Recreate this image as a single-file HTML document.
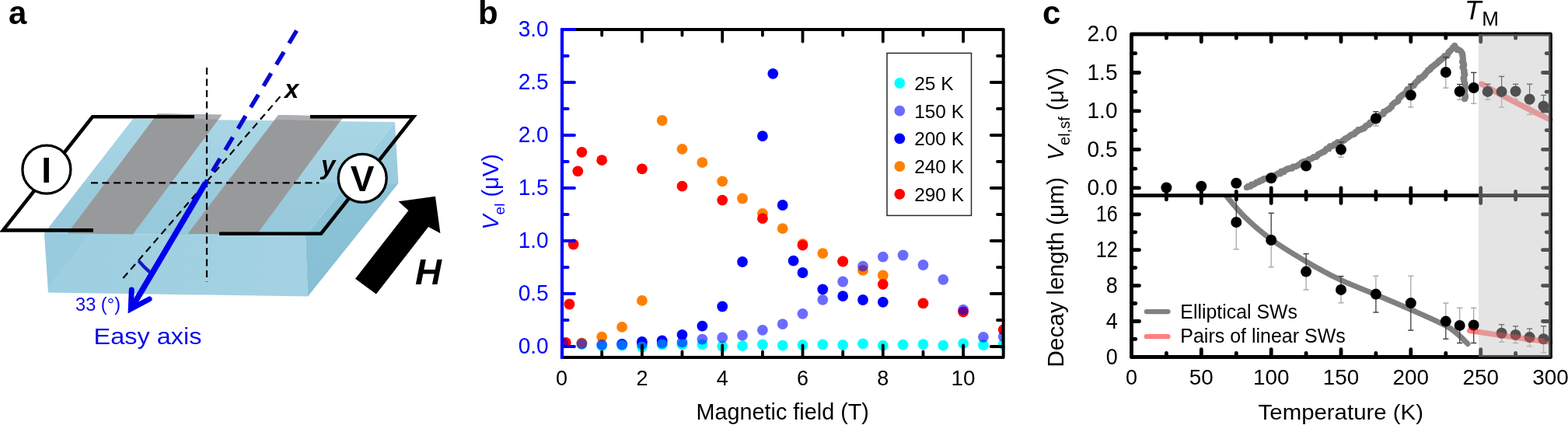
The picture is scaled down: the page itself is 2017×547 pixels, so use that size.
<!DOCTYPE html><html><head><meta charset="utf-8"><title>Figure</title><style>html,body{margin:0;padding:0;background:#fff;}svg{display:block;}</style></head><body>
<svg width="2017" height="547" viewBox="0 0 2017 547" font-family='"Liberation Sans", Arial, Helvetica, sans-serif'>
<rect width="2017" height="547" fill="#fff"/>
<text x="11" y="31" font-size="42" fill="#000" text-anchor="start" font-weight="bold" font-style="normal" >a</text>
<defs><linearGradient id="gTop" gradientUnits="userSpaceOnUse" x1="0" y1="153" x2="0" y2="304"><stop offset="0" stop-color="#a9d6e5"/><stop offset="0.54" stop-color="#a2d0e1"/><stop offset="0.552" stop-color="#9acbdd"/><stop offset="1" stop-color="#96c9db"/></linearGradient><linearGradient id="gFront" gradientUnits="userSpaceOnUse" x1="57" y1="0" x2="396" y2="0"><stop offset="0" stop-color="#9dcfe0"/><stop offset="1" stop-color="#a4d2e2"/></linearGradient><linearGradient id="gRight" gradientUnits="userSpaceOnUse" x1="0" y1="157" x2="0" y2="381"><stop offset="0" stop-color="#a0d0e1"/><stop offset="0.35" stop-color="#98cbdd"/><stop offset="0.36" stop-color="#8cc3d7"/><stop offset="1" stop-color="#87bfd4"/></linearGradient></defs>
<polygon points="57,300 393,304 396,381.5 62,376.5" fill="url(#gFront)" />
<polygon points="508,157 512.5,236 396,381.5 393,304" fill="url(#gRight)" />
<polygon points="171,153 508,157 393,304 57,300" fill="url(#gTop)" />
<polygon points="57,300 115,301 62,370" fill="#94c8da" opacity="0.6"/>
<polygon points="202.7,146.3 285.3,147.8 171,301.5 86.5,300.5" fill="#98999b" />
<polygon points="202.7,146.3 285.3,147.8 280.8,153.8 198.2,152.3" fill="#adaeb0" />
<polygon points="358,148 442,150 330.5,301.5 241.5,301" fill="#98999b" />
<polygon points="358,148 442,150 437.5,156 353.5,154" fill="#adaeb0" />
<polyline points="250,150.3 119,150.3 4,296.4 120,296.4" fill="none" stroke="#000" stroke-width="4.6" stroke-linecap="butt" stroke-linejoin="miter"/>
<polyline points="399,150.3 532,150.3 413,300.7 282,300.7" fill="none" stroke="#000" stroke-width="4.6" stroke-linecap="butt" stroke-linejoin="miter"/>
<line x1="266" y1="87" x2="266" y2="363" stroke="#000" stroke-width="2.2" stroke-dasharray="9 5.5"/>
<line x1="117" y1="235.4" x2="410.5" y2="235.4" stroke="#000" stroke-width="2.2" stroke-dasharray="9 5.5"/>
<line x1="360.4" y1="124.3" x2="155.5" y2="361.4" stroke="#000" stroke-width="2.2" stroke-dasharray="9 6"/>
<line x1="381.6" y1="39.4" x2="264.4" y2="235.4" stroke="#0808d4" stroke-width="5.4" stroke-dasharray="19 13"/>
<line x1="264.4" y1="235.4" x2="169.5" y2="396" stroke="#0000ee" stroke-width="7.4" stroke-linecap="butt"/>
<polyline points="169.3,373.1 168.3,397.5 192.1,385" fill="none" stroke="#0000ee" stroke-width="7" stroke-linecap="round" stroke-linejoin="miter"/>
<path d="M178.2,335.6 A132.6,132.6 0 0 0 193,350.5" fill="none" stroke="#1818c8" stroke-width="4.4"/>
<circle cx="59.9" cy="218.2" r="31" fill="#fff" stroke="#000" stroke-width="3.3"/>
<circle cx="466.2" cy="229.3" r="31" fill="#fff" stroke="#000" stroke-width="3.3"/>
<text x="59.6" y="235.3" font-size="46" fill="#000" text-anchor="middle" font-weight="bold" font-style="normal" >I</text>
<text x="466.2" y="246.4" font-size="46" fill="#000" text-anchor="middle" font-weight="bold" font-style="normal" >V</text>
<text x="366" y="125.6" font-size="33" fill="#000" text-anchor="start" font-weight="bold" font-style="italic" >x</text>
<text x="413" y="224" font-size="33" fill="#000" text-anchor="start" font-weight="bold" font-style="italic" >y</text>
<polygon points="560,252.8 566.4,300.2 551.1,292 483.9,378.6 457,358.7 525.4,271 512.5,259.2" fill="#000" />
<text x="534" y="366" font-size="47" fill="#000" text-anchor="start" font-weight="bold" font-style="italic" >H</text>
<text x="97" y="399.5" font-size="23.5" fill="#0a0aee" text-anchor="start" font-weight="normal" font-style="normal" textLength="58" lengthAdjust="spacingAndGlyphs" >33 (°)</text>
<text x="120.5" y="443.1" font-size="30" fill="#0a0aee" text-anchor="start" font-weight="normal" font-style="normal" textLength="139" lengthAdjust="spacingAndGlyphs" >Easy axis</text>
<text x="615" y="31" font-size="42" fill="#000" text-anchor="start" font-weight="bold" font-style="normal" >b</text>
<clipPath id="clipB"><rect x="723" y="38" width="567.7" height="422"/></clipPath>
<g clip-path="url(#clipB)">
<circle cx="800.1" cy="442.8" r="6.9" fill="#0000ff" />
<circle cx="825.9" cy="439.9" r="6.9" fill="#0000ff" />
<circle cx="851.7" cy="438.4" r="6.9" fill="#0000ff" />
<circle cx="877.5" cy="430.8" r="6.9" fill="#0000ff" />
<circle cx="903.4" cy="419.7" r="6.9" fill="#0000ff" />
<circle cx="929.2" cy="394.5" r="6.9" fill="#0000ff" />
<circle cx="955" cy="337" r="6.9" fill="#0000ff" />
<circle cx="980.9" cy="175.1" r="6.9" fill="#0000ff" />
<circle cx="994.3" cy="94.8" r="6.9" fill="#0000ff" />
<circle cx="1006.7" cy="264" r="6.9" fill="#0000ff" />
<circle cx="1020.6" cy="335.7" r="6.9" fill="#0000ff" />
<circle cx="1032.5" cy="351" r="6.9" fill="#0000ff" />
<circle cx="1058.3" cy="372.3" r="6.9" fill="#0000ff" />
<circle cx="1084.2" cy="381.1" r="6.9" fill="#0000ff" />
<circle cx="1110" cy="386" r="6.9" fill="#0000ff" />
<circle cx="1135.8" cy="388.8" r="6.9" fill="#0000ff" />
<circle cx="748.4" cy="443" r="6.9" fill="#00ffff" />
<circle cx="774.2" cy="445" r="6.9" fill="#00ffff" />
<circle cx="800.1" cy="444.5" r="6.9" fill="#00ffff" />
<circle cx="825.9" cy="446.5" r="6.9" fill="#00ffff" />
<circle cx="851.7" cy="443.4" r="6.9" fill="#00ffff" />
<circle cx="877.5" cy="443.4" r="6.9" fill="#00ffff" />
<circle cx="903.4" cy="443.4" r="6.9" fill="#00ffff" />
<circle cx="929.2" cy="445.7" r="6.9" fill="#00ffff" />
<circle cx="955" cy="445.2" r="6.9" fill="#00ffff" />
<circle cx="980.9" cy="443.4" r="6.9" fill="#00ffff" />
<circle cx="1006.7" cy="444.7" r="6.9" fill="#00ffff" />
<circle cx="1032.5" cy="444" r="6.9" fill="#00ffff" />
<circle cx="1058.3" cy="443.4" r="6.9" fill="#00ffff" />
<circle cx="1084.2" cy="444" r="6.9" fill="#00ffff" />
<circle cx="1110" cy="442.4" r="6.9" fill="#00ffff" />
<circle cx="1135.8" cy="444.7" r="6.9" fill="#00ffff" />
<circle cx="1161.6" cy="443.7" r="6.9" fill="#00ffff" />
<circle cx="1187.5" cy="443.1" r="6.9" fill="#00ffff" />
<circle cx="1213.3" cy="444.7" r="6.9" fill="#00ffff" />
<circle cx="1239.1" cy="442.1" r="6.9" fill="#00ffff" />
<circle cx="1264.9" cy="444" r="6.9" fill="#00ffff" />
<circle cx="1290.8" cy="443" r="6.9" fill="#00ffff" />
<circle cx="748.4" cy="441.5" r="6.9" fill="#ff8000" />
<circle cx="774.2" cy="433.7" r="6.9" fill="#ff8000" />
<circle cx="800.1" cy="420.9" r="6.9" fill="#ff8000" />
<circle cx="825.9" cy="386.9" r="6.9" fill="#ff8000" />
<circle cx="851.7" cy="155" r="6.9" fill="#ff8000" />
<circle cx="877.5" cy="191.8" r="6.9" fill="#ff8000" />
<circle cx="903.4" cy="209.2" r="6.9" fill="#ff8000" />
<circle cx="929.2" cy="233.3" r="6.9" fill="#ff8000" />
<circle cx="955" cy="255.5" r="6.9" fill="#ff8000" />
<circle cx="980.9" cy="274.8" r="6.9" fill="#ff8000" />
<circle cx="1006.7" cy="294.2" r="6.9" fill="#ff8000" />
<circle cx="1032.5" cy="314" r="6.9" fill="#ff8000" />
<circle cx="1058.3" cy="326.1" r="6.9" fill="#ff8000" />
<circle cx="1084.2" cy="336.4" r="6.9" fill="#ff8000" />
<circle cx="1110" cy="347.9" r="6.9" fill="#ff8000" />
<circle cx="1135.8" cy="354.5" r="6.9" fill="#ff8000" />
<circle cx="727.8" cy="441" r="6.9" fill="#ff0000" />
<circle cx="732.4" cy="391.5" r="6.9" fill="#ff0000" />
<circle cx="737.6" cy="314.5" r="6.9" fill="#ff0000" />
<circle cx="743.3" cy="220.3" r="6.9" fill="#ff0000" />
<circle cx="748.4" cy="195.8" r="6.9" fill="#ff0000" />
<circle cx="774.2" cy="206.2" r="6.9" fill="#ff0000" />
<circle cx="825.9" cy="217.3" r="6.9" fill="#ff0000" />
<circle cx="877.5" cy="239.7" r="6.9" fill="#ff0000" />
<circle cx="929.2" cy="257.6" r="6.9" fill="#ff0000" />
<circle cx="980.9" cy="281.2" r="6.9" fill="#ff0000" />
<circle cx="1032.5" cy="315.7" r="6.9" fill="#ff0000" />
<circle cx="1084.2" cy="336.5" r="6.9" fill="#ff0000" />
<circle cx="1135.8" cy="365.8" r="6.9" fill="#ff0000" />
<circle cx="1187.5" cy="390.4" r="6.9" fill="#ff0000" />
<circle cx="1239.1" cy="401.3" r="6.9" fill="#ff0000" />
<circle cx="1290.8" cy="424.3" r="6.9" fill="#ff0000" />
<circle cx="723.6" cy="441.5" r="6.9" fill="#0000ff" fill-opacity="0.58"/>
<circle cx="748.4" cy="442.3" r="6.9" fill="#0000ff" fill-opacity="0.58"/>
<circle cx="774.2" cy="443.6" r="6.9" fill="#0000ff" fill-opacity="0.58"/>
<circle cx="800.1" cy="443.4" r="6.9" fill="#0000ff" fill-opacity="0.58"/>
<circle cx="825.9" cy="442.8" r="6.9" fill="#0000ff" fill-opacity="0.58"/>
<circle cx="851.7" cy="441.7" r="6.9" fill="#0000ff" fill-opacity="0.58"/>
<circle cx="877.5" cy="440.4" r="6.9" fill="#0000ff" fill-opacity="0.58"/>
<circle cx="903.4" cy="436.6" r="6.9" fill="#0000ff" fill-opacity="0.58"/>
<circle cx="929.2" cy="434.5" r="6.9" fill="#0000ff" fill-opacity="0.58"/>
<circle cx="955" cy="431.7" r="6.9" fill="#0000ff" fill-opacity="0.58"/>
<circle cx="980.9" cy="424.8" r="6.9" fill="#0000ff" fill-opacity="0.58"/>
<circle cx="1006.7" cy="417.1" r="6.9" fill="#0000ff" fill-opacity="0.58"/>
<circle cx="1032.5" cy="403.8" r="6.9" fill="#0000ff" fill-opacity="0.58"/>
<circle cx="1058.3" cy="385.8" r="6.9" fill="#0000ff" fill-opacity="0.58"/>
<circle cx="1084.2" cy="362.5" r="6.9" fill="#0000ff" fill-opacity="0.58"/>
<circle cx="1110" cy="342.7" r="6.9" fill="#0000ff" fill-opacity="0.58"/>
<circle cx="1135.8" cy="330.6" r="6.9" fill="#0000ff" fill-opacity="0.58"/>
<circle cx="1161.6" cy="328.5" r="6.9" fill="#0000ff" fill-opacity="0.58"/>
<circle cx="1187.5" cy="341" r="6.9" fill="#0000ff" fill-opacity="0.58"/>
<circle cx="1213.3" cy="359.8" r="6.9" fill="#0000ff" fill-opacity="0.58"/>
<circle cx="1239.1" cy="398.6" r="6.9" fill="#0000ff" fill-opacity="0.58"/>
<circle cx="1264.9" cy="433.8" r="6.9" fill="#0000ff" fill-opacity="0.58"/>
<circle cx="1290.8" cy="433.2" r="6.9" fill="#0000ff" fill-opacity="0.58"/>
</g>
<line x1="774.2" y1="460" x2="774.2" y2="452.5" stroke="#000" stroke-width="3.8" stroke-linecap="round"/>
<line x1="774.2" y1="38" x2="774.2" y2="45.5" stroke="#000" stroke-width="3.8" stroke-linecap="round"/>
<line x1="825.9" y1="460" x2="825.9" y2="444.4" stroke="#000" stroke-width="3.8" stroke-linecap="round"/>
<line x1="825.9" y1="38" x2="825.9" y2="53.6" stroke="#000" stroke-width="3.8" stroke-linecap="round"/>
<line x1="877.5" y1="460" x2="877.5" y2="452.5" stroke="#000" stroke-width="3.8" stroke-linecap="round"/>
<line x1="877.5" y1="38" x2="877.5" y2="45.5" stroke="#000" stroke-width="3.8" stroke-linecap="round"/>
<line x1="929.2" y1="460" x2="929.2" y2="444.4" stroke="#000" stroke-width="3.8" stroke-linecap="round"/>
<line x1="929.2" y1="38" x2="929.2" y2="53.6" stroke="#000" stroke-width="3.8" stroke-linecap="round"/>
<line x1="980.9" y1="460" x2="980.9" y2="452.5" stroke="#000" stroke-width="3.8" stroke-linecap="round"/>
<line x1="980.9" y1="38" x2="980.9" y2="45.5" stroke="#000" stroke-width="3.8" stroke-linecap="round"/>
<line x1="1032.5" y1="460" x2="1032.5" y2="444.4" stroke="#000" stroke-width="3.8" stroke-linecap="round"/>
<line x1="1032.5" y1="38" x2="1032.5" y2="53.6" stroke="#000" stroke-width="3.8" stroke-linecap="round"/>
<line x1="1084.2" y1="460" x2="1084.2" y2="452.5" stroke="#000" stroke-width="3.8" stroke-linecap="round"/>
<line x1="1084.2" y1="38" x2="1084.2" y2="45.5" stroke="#000" stroke-width="3.8" stroke-linecap="round"/>
<line x1="1135.8" y1="460" x2="1135.8" y2="444.4" stroke="#000" stroke-width="3.8" stroke-linecap="round"/>
<line x1="1135.8" y1="38" x2="1135.8" y2="53.6" stroke="#000" stroke-width="3.8" stroke-linecap="round"/>
<line x1="1187.5" y1="460" x2="1187.5" y2="452.5" stroke="#000" stroke-width="3.8" stroke-linecap="round"/>
<line x1="1187.5" y1="38" x2="1187.5" y2="45.5" stroke="#000" stroke-width="3.8" stroke-linecap="round"/>
<line x1="1239.1" y1="460" x2="1239.1" y2="444.4" stroke="#000" stroke-width="3.8" stroke-linecap="round"/>
<line x1="1239.1" y1="38" x2="1239.1" y2="53.6" stroke="#000" stroke-width="3.8" stroke-linecap="round"/>
<line x1="1290.7" y1="446" x2="1274.7" y2="446" stroke="#000" stroke-width="3.8" stroke-linecap="round"/>
<line x1="1290.7" y1="412" x2="1283" y2="412" stroke="#000" stroke-width="3.8" stroke-linecap="round"/>
<line x1="1290.7" y1="378" x2="1274.7" y2="378" stroke="#000" stroke-width="3.8" stroke-linecap="round"/>
<line x1="1290.7" y1="344" x2="1283" y2="344" stroke="#000" stroke-width="3.8" stroke-linecap="round"/>
<line x1="1290.7" y1="310" x2="1274.7" y2="310" stroke="#000" stroke-width="3.8" stroke-linecap="round"/>
<line x1="1290.7" y1="276" x2="1283" y2="276" stroke="#000" stroke-width="3.8" stroke-linecap="round"/>
<line x1="1290.7" y1="242" x2="1274.7" y2="242" stroke="#000" stroke-width="3.8" stroke-linecap="round"/>
<line x1="1290.7" y1="208" x2="1283" y2="208" stroke="#000" stroke-width="3.8" stroke-linecap="round"/>
<line x1="1290.7" y1="174" x2="1274.7" y2="174" stroke="#000" stroke-width="3.8" stroke-linecap="round"/>
<line x1="1290.7" y1="140" x2="1283" y2="140" stroke="#000" stroke-width="3.8" stroke-linecap="round"/>
<line x1="1290.7" y1="106" x2="1274.7" y2="106" stroke="#000" stroke-width="3.8" stroke-linecap="round"/>
<line x1="1290.7" y1="72" x2="1283" y2="72" stroke="#000" stroke-width="3.8" stroke-linecap="round"/>
<line x1="1290.7" y1="38" x2="1274.7" y2="38" stroke="#000" stroke-width="3.8" stroke-linecap="round"/>
<line x1="723" y1="446" x2="739" y2="446" stroke="#0000ff" stroke-width="3.8" stroke-linecap="round"/>
<line x1="723" y1="412" x2="730.7" y2="412" stroke="#0000ff" stroke-width="3.8" stroke-linecap="round"/>
<line x1="723" y1="378" x2="739" y2="378" stroke="#0000ff" stroke-width="3.8" stroke-linecap="round"/>
<line x1="723" y1="344" x2="730.7" y2="344" stroke="#0000ff" stroke-width="3.8" stroke-linecap="round"/>
<line x1="723" y1="310" x2="739" y2="310" stroke="#0000ff" stroke-width="3.8" stroke-linecap="round"/>
<line x1="723" y1="276" x2="730.7" y2="276" stroke="#0000ff" stroke-width="3.8" stroke-linecap="round"/>
<line x1="723" y1="242" x2="739" y2="242" stroke="#0000ff" stroke-width="3.8" stroke-linecap="round"/>
<line x1="723" y1="208" x2="730.7" y2="208" stroke="#0000ff" stroke-width="3.8" stroke-linecap="round"/>
<line x1="723" y1="174" x2="739" y2="174" stroke="#0000ff" stroke-width="3.8" stroke-linecap="round"/>
<line x1="723" y1="140" x2="730.7" y2="140" stroke="#0000ff" stroke-width="3.8" stroke-linecap="round"/>
<line x1="723" y1="106" x2="739" y2="106" stroke="#0000ff" stroke-width="3.8" stroke-linecap="round"/>
<line x1="723" y1="72" x2="730.7" y2="72" stroke="#0000ff" stroke-width="3.8" stroke-linecap="round"/>
<line x1="723" y1="38" x2="739" y2="38" stroke="#0000ff" stroke-width="3.8" stroke-linecap="round"/>
<rect x="723" y="38" width="567.7" height="422" fill="none" stroke="#000" stroke-width="4" stroke-linejoin="round"/>
<line x1="723" y1="36" x2="723" y2="462" stroke="#0000ff" stroke-width="4.2" />
<line x1="723" y1="38" x2="741" y2="38" stroke="#0000ff" stroke-width="4" />
<text x="705.7" y="455.4" font-size="28.8" fill="#0000ff" text-anchor="end" font-weight="normal" font-style="normal" textLength="39" lengthAdjust="spacingAndGlyphs" >0.0</text>
<text x="705.7" y="387.4" font-size="28.8" fill="#0000ff" text-anchor="end" font-weight="normal" font-style="normal" textLength="39" lengthAdjust="spacingAndGlyphs" >0.5</text>
<text x="705.7" y="319.4" font-size="28.8" fill="#0000ff" text-anchor="end" font-weight="normal" font-style="normal" textLength="39" lengthAdjust="spacingAndGlyphs" >1.0</text>
<text x="705.7" y="251.4" font-size="28.8" fill="#0000ff" text-anchor="end" font-weight="normal" font-style="normal" textLength="39" lengthAdjust="spacingAndGlyphs" >1.5</text>
<text x="705.7" y="183.4" font-size="28.8" fill="#0000ff" text-anchor="end" font-weight="normal" font-style="normal" textLength="39" lengthAdjust="spacingAndGlyphs" >2.0</text>
<text x="705.7" y="115.4" font-size="28.8" fill="#0000ff" text-anchor="end" font-weight="normal" font-style="normal" textLength="39" lengthAdjust="spacingAndGlyphs" >2.5</text>
<text x="705.7" y="47.4" font-size="28.8" fill="#0000ff" text-anchor="end" font-weight="normal" font-style="normal" textLength="39" lengthAdjust="spacingAndGlyphs" >3.0</text>
<text x="722.6" y="496" font-size="28.5" fill="#000" text-anchor="middle" font-weight="normal" font-style="normal" textLength="15" lengthAdjust="spacingAndGlyphs" >0</text>
<text x="825.9" y="496" font-size="28.5" fill="#000" text-anchor="middle" font-weight="normal" font-style="normal" textLength="15" lengthAdjust="spacingAndGlyphs" >2</text>
<text x="929.2" y="496" font-size="28.5" fill="#000" text-anchor="middle" font-weight="normal" font-style="normal" textLength="15" lengthAdjust="spacingAndGlyphs" >4</text>
<text x="1032.5" y="496" font-size="28.5" fill="#000" text-anchor="middle" font-weight="normal" font-style="normal" textLength="15" lengthAdjust="spacingAndGlyphs" >6</text>
<text x="1135.8" y="496" font-size="28.5" fill="#000" text-anchor="middle" font-weight="normal" font-style="normal" textLength="15" lengthAdjust="spacingAndGlyphs" >8</text>
<text x="1239.1" y="496" font-size="28.5" fill="#000" text-anchor="middle" font-weight="normal" font-style="normal" textLength="31" lengthAdjust="spacingAndGlyphs" >10</text>
<text x="1006.7" y="540.4" font-size="29" fill="#000" text-anchor="middle" font-weight="normal" font-style="normal" textLength="222.4" lengthAdjust="spacingAndGlyphs" >Magnetic field (T)</text>
<text transform="translate(640.5,247) rotate(-90)" font-size="29" fill="#0000ff" text-anchor="middle"><tspan font-style="italic">V</tspan><tspan font-size="19" dy="8.5">el</tspan><tspan dy="-8.5"> (μV)</tspan></text>
<rect x="1141" y="68.4" width="108.5" height="209" fill="#fff" stroke="#2a2a2a" stroke-width="1.5"/>
<circle cx="1157.3" cy="107" r="6.9" fill="#00ffff" />
<text x="1176.2" y="115.8" font-size="24.5" fill="#000" text-anchor="start" font-weight="normal" font-style="normal" textLength="50.5" lengthAdjust="spacingAndGlyphs" >25 K</text>
<circle cx="1157.3" cy="142.7" r="6.9" fill="rgba(0,0,255,0.58)" />
<text x="1176.2" y="151.5" font-size="24.5" fill="#000" text-anchor="start" font-weight="normal" font-style="normal" textLength="63.7" lengthAdjust="spacingAndGlyphs" >150 K</text>
<circle cx="1157.3" cy="178.4" r="6.9" fill="#0000ff" />
<text x="1176.2" y="187.2" font-size="24.5" fill="#000" text-anchor="start" font-weight="normal" font-style="normal" textLength="63.7" lengthAdjust="spacingAndGlyphs" >200 K</text>
<circle cx="1157.3" cy="214.1" r="6.9" fill="#ff8000" />
<text x="1176.2" y="222.9" font-size="24.5" fill="#000" text-anchor="start" font-weight="normal" font-style="normal" textLength="63.7" lengthAdjust="spacingAndGlyphs" >240 K</text>
<circle cx="1157.3" cy="249.8" r="6.9" fill="#ff0000" />
<text x="1176.2" y="258.6" font-size="24.5" fill="#000" text-anchor="start" font-weight="normal" font-style="normal" textLength="63.7" lengthAdjust="spacingAndGlyphs" >290 K</text>
<text x="1341" y="31" font-size="42" fill="#000" text-anchor="start" font-weight="bold" font-style="normal" >c</text>
<path d="M1603.9,241.6 C1606.5,240.4 1614.2,236.6 1619.2,234.3 C1624.2,232 1628.3,230.1 1633.9,227.7 C1639.5,225.3 1646.8,222.2 1652.9,219.7 C1659,217.1 1663.8,215.4 1670.4,212.4 C1677,209.4 1687.4,204.1 1692.3,201.4 C1697.2,198.7 1696.9,198.4 1700,196.3 C1703.1,194.2 1706.8,191.5 1711,189.1 C1715.2,186.7 1719.7,185.3 1725.2,182.1 C1730.7,178.9 1738.1,173.5 1743.8,170 C1749.5,166.5 1754.8,163.9 1759.2,161.2 C1763.6,158.5 1765.5,157.4 1770.2,153.6 C1775,149.8 1781.7,144 1787.7,138.5 C1793.7,133 1800.5,126.4 1806.4,120.7 C1812.3,115 1817.4,109.5 1822.9,104.3 C1828.4,99.1 1834.4,93.8 1839.3,89.5 C1844.2,85.2 1848.9,81.8 1852.5,78.8 C1856.1,75.8 1858.2,73.9 1860.7,71.4 C1863.2,68.9 1865.7,66 1867.3,64 C1868.9,62 1869.2,59.6 1870.6,59.5 C1872,59.4 1874,62.1 1875.5,63.2 C1877,64.4 1878.6,64.5 1879.6,66.4 C1880.6,68.3 1880.8,70.6 1881.3,74.7 C1881.8,78.8 1882.4,85.6 1882.9,91.1 C1883.4,96.6 1883.8,101.6 1884.1,107.6 C1884.4,113.6 1884.5,124 1884.6,127.3" fill="none" stroke="#808080" stroke-width="7" stroke-linecap="round" stroke-linejoin="round"/>
<g fill="#808080"><circle cx="1603.7" cy="241.2" r="3.9"/><circle cx="1605.7" cy="239.7" r="3.9"/><circle cx="1608.4" cy="239.9" r="3.9"/><circle cx="1610" cy="237.5" r="3.9"/><circle cx="1612.7" cy="237.5" r="3.9"/><circle cx="1614.7" cy="236.1" r="3.9"/><circle cx="1616.5" cy="234.3" r="3.9"/><circle cx="1619.2" cy="234.3" r="3.9"/><circle cx="1620.8" cy="232.3" r="3.9"/><circle cx="1623.3" cy="232.3" r="3.9"/><circle cx="1625" cy="230.5" r="3.9"/><circle cx="1627.2" cy="229.6" r="3.9"/><circle cx="1629.6" cy="229.4" r="3.9"/><circle cx="1632.1" cy="229.4" r="3.9"/><circle cx="1633.5" cy="226.8" r="3.9"/><circle cx="1635.7" cy="226.1" r="3.9"/><circle cx="1638.3" cy="226.2" r="3.9"/><circle cx="1640.7" cy="226.1" r="3.9"/><circle cx="1642.4" cy="224.3" r="3.9"/><circle cx="1644.4" cy="223" r="3.9"/><circle cx="1647" cy="223.5" r="3.9"/><circle cx="1648.2" cy="220.4" r="3.9"/><circle cx="1651.2" cy="221.4" r="3.9"/><circle cx="1652.7" cy="219.2" r="3.9"/><circle cx="1654.7" cy="217.9" r="3.9"/><circle cx="1656.9" cy="217" r="3.9"/><circle cx="1659.3" cy="216.5" r="3.9"/><circle cx="1662" cy="216.8" r="3.9"/><circle cx="1663.5" cy="214.4" r="3.9"/><circle cx="1666.1" cy="214.4" r="3.9"/><circle cx="1668.4" cy="213.6" r="3.9"/><circle cx="1670.3" cy="212.1" r="3.9"/><circle cx="1672.4" cy="211.5" r="3.9"/><circle cx="1673.9" cy="209.4" r="3.9"/><circle cx="1675.9" cy="208.4" r="3.9"/><circle cx="1678" cy="207.7" r="3.9"/><circle cx="1680.6" cy="207.8" r="3.9"/><circle cx="1682.3" cy="206.2" r="3.9"/><circle cx="1684.1" cy="205" r="3.9"/><circle cx="1686.4" cy="204.6" r="3.9"/><circle cx="1688.3" cy="203.3" r="3.9"/><circle cx="1690.1" cy="201.9" r="3.9"/><circle cx="1692.7" cy="202" r="3.9"/><circle cx="1694.5" cy="200.6" r="3.9"/><circle cx="1695.8" cy="198.3" r="3.9"/><circle cx="1698.2" cy="197.7" r="3.9"/><circle cx="1700" cy="196.4" r="3.9"/><circle cx="1702.7" cy="195.7" r="3.9"/><circle cx="1704.7" cy="193.9" r="3.9"/><circle cx="1706.3" cy="191.5" r="3.9"/><circle cx="1709.5" cy="191.6" r="3.9"/><circle cx="1710.6" cy="188.2" r="3.9"/><circle cx="1712.9" cy="187.9" r="3.9"/><circle cx="1715.4" cy="187.7" r="3.9"/><circle cx="1716.7" cy="185.3" r="3.9"/><circle cx="1719.1" cy="185.1" r="3.9"/><circle cx="1720.6" cy="183" r="3.9"/><circle cx="1723.4" cy="183.5" r="3.9"/><circle cx="1725.6" cy="182.7" r="3.9"/><circle cx="1727.2" cy="181" r="3.9"/><circle cx="1729.5" cy="180.5" r="3.9"/><circle cx="1730.5" cy="178.1" r="3.9"/><circle cx="1732.9" cy="177.7" r="3.9"/><circle cx="1734.6" cy="176.3" r="3.9"/><circle cx="1736.5" cy="175" r="3.9"/><circle cx="1738.2" cy="173.5" r="3.9"/><circle cx="1740.6" cy="173.2" r="3.9"/><circle cx="1742.6" cy="172.2" r="3.9"/><circle cx="1743.8" cy="169.9" r="3.9"/><circle cx="1745.9" cy="169.3" r="3.9"/><circle cx="1747.1" cy="166.8" r="3.9"/><circle cx="1749.8" cy="167.2" r="3.9"/><circle cx="1751.7" cy="165.9" r="3.9"/><circle cx="1754.1" cy="165.6" r="3.9"/><circle cx="1755.8" cy="164.1" r="3.9"/><circle cx="1757" cy="161.8" r="3.9"/><circle cx="1759" cy="161" r="3.9"/><circle cx="1761.3" cy="160.3" r="3.9"/><circle cx="1762.2" cy="157.6" r="3.9"/><circle cx="1764.6" cy="157.3" r="3.9"/><circle cx="1766" cy="155.4" r="3.9"/><circle cx="1767.8" cy="154" r="3.9"/><circle cx="1769.5" cy="152.7" r="3.9"/><circle cx="1772.4" cy="152.6" r="3.9"/><circle cx="1773.1" cy="149.9" r="3.9"/><circle cx="1775" cy="148.6" r="3.9"/><circle cx="1777" cy="147.3" r="3.9"/><circle cx="1779.6" cy="146.8" r="3.9"/><circle cx="1780" cy="143.7" r="3.9"/><circle cx="1782.4" cy="142.9" r="3.9"/><circle cx="1784.3" cy="141.6" r="3.9"/><circle cx="1786.6" cy="140.8" r="3.9"/><circle cx="1788.3" cy="139.1" r="3.9"/><circle cx="1790.1" cy="137.6" r="3.9"/><circle cx="1790.7" cy="134.8" r="3.9"/><circle cx="1792.6" cy="133.5" r="3.9"/><circle cx="1794.2" cy="131.8" r="3.9"/><circle cx="1796.9" cy="131.1" r="3.9"/><circle cx="1798.7" cy="129.7" r="3.9"/><circle cx="1799" cy="126.5" r="3.9"/><circle cx="1800.7" cy="124.9" r="3.9"/><circle cx="1802.5" cy="123.4" r="3.9"/><circle cx="1804.2" cy="121.8" r="3.9"/><circle cx="1806.4" cy="120.7" r="3.9"/><circle cx="1808.2" cy="119.2" r="3.9"/><circle cx="1809.3" cy="117" r="3.9"/><circle cx="1810.4" cy="114.9" r="3.9"/><circle cx="1812.9" cy="114" r="3.9"/><circle cx="1814.4" cy="112.3" r="3.9"/><circle cx="1816.4" cy="111" r="3.9"/><circle cx="1818.8" cy="110.1" r="3.9"/><circle cx="1819.9" cy="107.9" r="3.9"/><circle cx="1821.3" cy="106" r="3.9"/><circle cx="1823.1" cy="104.5" r="3.9"/><circle cx="1824.8" cy="103.2" r="3.9"/><circle cx="1825.4" cy="100.5" r="3.9"/><circle cx="1828.5" cy="100.6" r="3.9"/><circle cx="1829.9" cy="98.9" r="3.9"/><circle cx="1831.8" cy="97.6" r="3.9"/><circle cx="1833.3" cy="96" r="3.9"/><circle cx="1834.2" cy="93.7" r="3.9"/><circle cx="1835.8" cy="92.3" r="3.9"/><circle cx="1837" cy="90.2" r="3.9"/><circle cx="1839.5" cy="89.8" r="3.9"/><circle cx="1840.5" cy="87.1" r="3.9"/><circle cx="1842.4" cy="85.6" r="3.9"/><circle cx="1844.5" cy="84.3" r="3.9"/><circle cx="1846.3" cy="82.7" r="3.9"/><circle cx="1848.5" cy="81.5" r="3.9"/><circle cx="1849.9" cy="79.4" r="3.9"/><circle cx="1851.6" cy="77.8" r="3.9"/><circle cx="1853.5" cy="76.6" r="3.9"/><circle cx="1855.1" cy="75.1" r="3.9"/><circle cx="1857.2" cy="74.1" r="3.9"/><circle cx="1858.2" cy="72" r="3.9"/><circle cx="1861.4" cy="72" r="3.9"/><circle cx="1862.6" cy="69.7" r="3.9"/><circle cx="1863.3" cy="67.1" r="3.9"/><circle cx="1865.2" cy="65.4" r="3.9"/><circle cx="1867" cy="63.8" r="3.9"/><circle cx="1868.7" cy="61.5" r="3.9"/><circle cx="1871.2" cy="58.7" r="3.9"/><circle cx="1872.5" cy="62.1" r="3.9"/><circle cx="1874.7" cy="64.2" r="3.9"/><circle cx="1877.6" cy="64.7" r="3.9"/><circle cx="1879.6" cy="66.4" r="3.9"/><circle cx="1881.2" cy="69" r="3.9"/><circle cx="1881.7" cy="71.7" r="3.9"/><circle cx="1881.7" cy="74.7" r="3.9"/><circle cx="1882.1" cy="77" r="3.9"/><circle cx="1880.9" cy="79.5" r="3.9"/><circle cx="1882.9" cy="81.6" r="3.9"/><circle cx="1883.4" cy="84" r="3.9"/><circle cx="1881.3" cy="86.5" r="3.9"/><circle cx="1882.6" cy="88.8" r="3.9"/><circle cx="1883.8" cy="91" r="3.9"/><circle cx="1883" cy="93.5" r="3.9"/><circle cx="1884.5" cy="95.7" r="3.9"/><circle cx="1883.3" cy="98.2" r="3.9"/><circle cx="1882.3" cy="100.6" r="3.9"/><circle cx="1882.8" cy="103" r="3.9"/><circle cx="1883.4" cy="105.3" r="3.9"/><circle cx="1884.7" cy="107.6" r="3.9"/><circle cx="1884.5" cy="110.1" r="3.9"/><circle cx="1885.1" cy="112.5" r="3.9"/><circle cx="1883.6" cy="115" r="3.9"/><circle cx="1884.3" cy="117.5" r="3.9"/><circle cx="1883.7" cy="119.9" r="3.9"/><circle cx="1884.9" cy="122.4" r="3.9"/><circle cx="1885.3" cy="124.8" r="3.9"/><circle cx="1883.8" cy="127.3" r="3.9"/></g>
<clipPath id="clipL"><rect x="1455" y="252" width="540" height="208"/></clipPath>
<path d="M1568,241 C1569.3,242.6 1570.7,244.3 1576.1,250.5 C1581.5,256.7 1590.5,268.7 1600.2,278.2 C1609.9,287.7 1621.2,297.8 1634.4,307.5 C1647.6,317.2 1664.5,327.4 1679.5,336.2 C1694.5,345 1709.2,353.1 1724.2,360.2 C1739.2,367.3 1754.3,372.6 1769.3,379 C1784.3,385.4 1799.2,391.6 1814.3,398.3 C1829.4,405 1849.6,413.7 1859.8,419.1 C1870,424.5 1870.8,426.6 1875.5,430.5 C1880.2,434.4 1885.9,440.5 1888,442.5" fill="none" stroke="#808080" stroke-width="7" stroke-linecap="round" clip-path="url(#clipL)"/>
<path d="M1905.6,108 Q1950,133 1994,154" fill="none" stroke="#ff0000" stroke-opacity="0.5" stroke-width="7.2" stroke-linecap="round"/>
<line x1="1725" y1="182.8" x2="1725" y2="192.6" stroke="#3c3c3c" stroke-width="1.3" />
<line x1="1725" y1="192.6" x2="1725" y2="202.2" stroke="#a8a8a8" stroke-width="1.3" />
<line x1="1721.4" y1="182.8" x2="1728.6" y2="182.8" stroke="#3c3c3c" stroke-width="1.4" />
<line x1="1721.4" y1="202.2" x2="1728.6" y2="202.2" stroke="#a8a8a8" stroke-width="1.4" />
<line x1="1769.9" y1="143.7" x2="1769.9" y2="152.5" stroke="#3c3c3c" stroke-width="1.3" />
<line x1="1769.9" y1="152.5" x2="1769.9" y2="162.1" stroke="#a8a8a8" stroke-width="1.3" />
<line x1="1766.3" y1="143.7" x2="1773.5" y2="143.7" stroke="#3c3c3c" stroke-width="1.4" />
<line x1="1766.3" y1="162.1" x2="1773.5" y2="162.1" stroke="#a8a8a8" stroke-width="1.4" />
<line x1="1814.8" y1="108.3" x2="1814.8" y2="122.5" stroke="#3c3c3c" stroke-width="1.3" />
<line x1="1814.8" y1="122.5" x2="1814.8" y2="137.9" stroke="#a8a8a8" stroke-width="1.3" />
<line x1="1811.2" y1="108.3" x2="1818.4" y2="108.3" stroke="#3c3c3c" stroke-width="1.4" />
<line x1="1811.2" y1="137.9" x2="1818.4" y2="137.9" stroke="#a8a8a8" stroke-width="1.4" />
<line x1="1859.8" y1="73.6" x2="1859.8" y2="93" stroke="#3c3c3c" stroke-width="1.3" />
<line x1="1859.8" y1="93" x2="1859.8" y2="113.2" stroke="#a8a8a8" stroke-width="1.3" />
<line x1="1856.2" y1="73.6" x2="1863.4" y2="73.6" stroke="#3c3c3c" stroke-width="1.4" />
<line x1="1856.2" y1="113.2" x2="1863.4" y2="113.2" stroke="#a8a8a8" stroke-width="1.4" />
<line x1="1877.7" y1="108.6" x2="1877.7" y2="117.8" stroke="#3c3c3c" stroke-width="1.3" />
<line x1="1877.7" y1="117.8" x2="1877.7" y2="128.3" stroke="#a8a8a8" stroke-width="1.3" />
<line x1="1874.1" y1="108.6" x2="1881.3" y2="108.6" stroke="#3c3c3c" stroke-width="1.4" />
<line x1="1874.1" y1="128.3" x2="1881.3" y2="128.3" stroke="#a8a8a8" stroke-width="1.4" />
<line x1="1895.7" y1="93.4" x2="1895.7" y2="113" stroke="#3c3c3c" stroke-width="1.3" />
<line x1="1895.7" y1="113" x2="1895.7" y2="133.3" stroke="#a8a8a8" stroke-width="1.3" />
<line x1="1892.1" y1="93.4" x2="1899.3" y2="93.4" stroke="#3c3c3c" stroke-width="1.4" />
<line x1="1892.1" y1="133.3" x2="1899.3" y2="133.3" stroke="#a8a8a8" stroke-width="1.4" />
<line x1="1913.7" y1="108.3" x2="1913.7" y2="117.9" stroke="#3c3c3c" stroke-width="1.3" />
<line x1="1913.7" y1="117.9" x2="1913.7" y2="128.2" stroke="#a8a8a8" stroke-width="1.3" />
<line x1="1910.1" y1="108.3" x2="1917.3" y2="108.3" stroke="#3c3c3c" stroke-width="1.4" />
<line x1="1910.1" y1="128.2" x2="1917.3" y2="128.2" stroke="#a8a8a8" stroke-width="1.4" />
<line x1="1931.6" y1="98.4" x2="1931.6" y2="117.9" stroke="#3c3c3c" stroke-width="1.3" />
<line x1="1931.6" y1="117.9" x2="1931.6" y2="137.9" stroke="#a8a8a8" stroke-width="1.3" />
<line x1="1928" y1="98.4" x2="1935.2" y2="98.4" stroke="#3c3c3c" stroke-width="1.4" />
<line x1="1928" y1="137.9" x2="1935.2" y2="137.9" stroke="#a8a8a8" stroke-width="1.4" />
<line x1="1949.6" y1="108.3" x2="1949.6" y2="117.5" stroke="#3c3c3c" stroke-width="1.3" />
<line x1="1949.6" y1="117.5" x2="1949.6" y2="128.2" stroke="#a8a8a8" stroke-width="1.3" />
<line x1="1946" y1="108.3" x2="1953.2" y2="108.3" stroke="#3c3c3c" stroke-width="1.4" />
<line x1="1946" y1="128.2" x2="1953.2" y2="128.2" stroke="#a8a8a8" stroke-width="1.4" />
<line x1="1967.6" y1="108.3" x2="1967.6" y2="127.7" stroke="#3c3c3c" stroke-width="1.3" />
<line x1="1967.6" y1="127.7" x2="1967.6" y2="147.5" stroke="#a8a8a8" stroke-width="1.3" />
<line x1="1964" y1="108.3" x2="1971.2" y2="108.3" stroke="#3c3c3c" stroke-width="1.4" />
<line x1="1964" y1="147.5" x2="1971.2" y2="147.5" stroke="#a8a8a8" stroke-width="1.4" />
<line x1="1985.5" y1="122.5" x2="1985.5" y2="136.8" stroke="#3c3c3c" stroke-width="1.3" />
<line x1="1985.5" y1="136.8" x2="1985.5" y2="151.6" stroke="#a8a8a8" stroke-width="1.3" />
<line x1="1981.9" y1="122.5" x2="1989.1" y2="122.5" stroke="#3c3c3c" stroke-width="1.4" />
<line x1="1981.9" y1="151.6" x2="1989.1" y2="151.6" stroke="#a8a8a8" stroke-width="1.4" />
<line x1="1590.3" y1="253" x2="1590.3" y2="286" stroke="#3c3c3c" stroke-width="1.3" />
<line x1="1590.3" y1="286" x2="1590.3" y2="320.8" stroke="#a8a8a8" stroke-width="1.3" />
<line x1="1586.7" y1="253" x2="1593.9" y2="253" stroke="#3c3c3c" stroke-width="1.4" />
<line x1="1586.7" y1="320.8" x2="1593.9" y2="320.8" stroke="#a8a8a8" stroke-width="1.4" />
<line x1="1635.2" y1="274.3" x2="1635.2" y2="309" stroke="#3c3c3c" stroke-width="1.3" />
<line x1="1635.2" y1="309" x2="1635.2" y2="343.8" stroke="#a8a8a8" stroke-width="1.3" />
<line x1="1631.6" y1="274.3" x2="1638.8" y2="274.3" stroke="#3c3c3c" stroke-width="1.4" />
<line x1="1631.6" y1="343.8" x2="1638.8" y2="343.8" stroke="#a8a8a8" stroke-width="1.4" />
<line x1="1680.1" y1="326.7" x2="1680.1" y2="349.6" stroke="#3c3c3c" stroke-width="1.3" />
<line x1="1680.1" y1="349.6" x2="1680.1" y2="372.9" stroke="#a8a8a8" stroke-width="1.3" />
<line x1="1676.5" y1="326.7" x2="1683.7" y2="326.7" stroke="#3c3c3c" stroke-width="1.4" />
<line x1="1676.5" y1="372.9" x2="1683.7" y2="372.9" stroke="#a8a8a8" stroke-width="1.4" />
<line x1="1725" y1="355.6" x2="1725" y2="372.9" stroke="#3c3c3c" stroke-width="1.3" />
<line x1="1725" y1="372.9" x2="1725" y2="389.8" stroke="#a8a8a8" stroke-width="1.3" />
<line x1="1721.4" y1="355.6" x2="1728.6" y2="355.6" stroke="#3c3c3c" stroke-width="1.4" />
<line x1="1721.4" y1="389.8" x2="1728.6" y2="389.8" stroke="#a8a8a8" stroke-width="1.4" />
<line x1="1769.9" y1="355.2" x2="1769.9" y2="378.6" stroke="#a8a8a8" stroke-width="1.3" />
<line x1="1769.9" y1="378.6" x2="1769.9" y2="402" stroke="#3c3c3c" stroke-width="1.3" />
<line x1="1766.3" y1="355.2" x2="1773.5" y2="355.2" stroke="#a8a8a8" stroke-width="1.4" />
<line x1="1766.3" y1="402" x2="1773.5" y2="402" stroke="#3c3c3c" stroke-width="1.4" />
<line x1="1814.8" y1="355.2" x2="1814.8" y2="390.1" stroke="#a8a8a8" stroke-width="1.3" />
<line x1="1814.8" y1="390.1" x2="1814.8" y2="425.1" stroke="#3c3c3c" stroke-width="1.3" />
<line x1="1811.2" y1="355.2" x2="1818.4" y2="355.2" stroke="#a8a8a8" stroke-width="1.4" />
<line x1="1811.2" y1="425.1" x2="1818.4" y2="425.1" stroke="#3c3c3c" stroke-width="1.4" />
<line x1="1859.8" y1="390.1" x2="1859.8" y2="413.6" stroke="#a8a8a8" stroke-width="1.3" />
<line x1="1859.8" y1="413.6" x2="1859.8" y2="436.2" stroke="#3c3c3c" stroke-width="1.3" />
<line x1="1856.2" y1="390.1" x2="1863.4" y2="390.1" stroke="#a8a8a8" stroke-width="1.4" />
<line x1="1856.2" y1="436.2" x2="1863.4" y2="436.2" stroke="#3c3c3c" stroke-width="1.4" />
<line x1="1877.7" y1="396.3" x2="1877.7" y2="418.9" stroke="#a8a8a8" stroke-width="1.3" />
<line x1="1877.7" y1="418.9" x2="1877.7" y2="441.5" stroke="#3c3c3c" stroke-width="1.3" />
<line x1="1874.1" y1="396.3" x2="1881.3" y2="396.3" stroke="#a8a8a8" stroke-width="1.4" />
<line x1="1874.1" y1="441.5" x2="1881.3" y2="441.5" stroke="#3c3c3c" stroke-width="1.4" />
<line x1="1895.7" y1="396.3" x2="1895.7" y2="418.5" stroke="#a8a8a8" stroke-width="1.3" />
<line x1="1895.7" y1="418.5" x2="1895.7" y2="441.5" stroke="#3c3c3c" stroke-width="1.3" />
<line x1="1892.1" y1="396.3" x2="1899.3" y2="396.3" stroke="#a8a8a8" stroke-width="1.4" />
<line x1="1892.1" y1="441.5" x2="1899.3" y2="441.5" stroke="#3c3c3c" stroke-width="1.4" />
<line x1="1931.6" y1="417.7" x2="1931.6" y2="428.8" stroke="#3c3c3c" stroke-width="1.3" />
<line x1="1931.6" y1="428.8" x2="1931.6" y2="440.3" stroke="#a8a8a8" stroke-width="1.3" />
<line x1="1928" y1="417.7" x2="1935.2" y2="417.7" stroke="#3c3c3c" stroke-width="1.4" />
<line x1="1928" y1="440.3" x2="1935.2" y2="440.3" stroke="#a8a8a8" stroke-width="1.4" />
<line x1="1949.6" y1="419.8" x2="1949.6" y2="430.9" stroke="#3c3c3c" stroke-width="1.3" />
<line x1="1949.6" y1="430.9" x2="1949.6" y2="441.5" stroke="#a8a8a8" stroke-width="1.3" />
<line x1="1946" y1="419.8" x2="1953.2" y2="419.8" stroke="#3c3c3c" stroke-width="1.4" />
<line x1="1946" y1="441.5" x2="1953.2" y2="441.5" stroke="#a8a8a8" stroke-width="1.4" />
<line x1="1967.6" y1="423" x2="1967.6" y2="434.1" stroke="#3c3c3c" stroke-width="1.3" />
<line x1="1967.6" y1="434.1" x2="1967.6" y2="445.7" stroke="#a8a8a8" stroke-width="1.3" />
<line x1="1964" y1="423" x2="1971.2" y2="423" stroke="#3c3c3c" stroke-width="1.4" />
<line x1="1964" y1="445.7" x2="1971.2" y2="445.7" stroke="#a8a8a8" stroke-width="1.4" />
<line x1="1985.5" y1="419.8" x2="1985.5" y2="436.2" stroke="#3c3c3c" stroke-width="1.3" />
<line x1="1985.5" y1="436.2" x2="1985.5" y2="453.9" stroke="#a8a8a8" stroke-width="1.3" />
<line x1="1981.9" y1="419.8" x2="1989.1" y2="419.8" stroke="#3c3c3c" stroke-width="1.4" />
<line x1="1981.9" y1="453.9" x2="1989.1" y2="453.9" stroke="#a8a8a8" stroke-width="1.4" />
<circle cx="1500.4" cy="241.5" r="7" fill="#000" />
<circle cx="1545.3" cy="239.8" r="7" fill="#000" />
<circle cx="1590.3" cy="235.8" r="7" fill="#000" />
<circle cx="1635.2" cy="229.3" r="7" fill="#000" />
<circle cx="1680.1" cy="213.6" r="7" fill="#000" />
<circle cx="1725" cy="192.6" r="7" fill="#000" />
<circle cx="1769.9" cy="152.5" r="7" fill="#000" />
<circle cx="1814.8" cy="122.5" r="7" fill="#000" />
<circle cx="1859.8" cy="93" r="7" fill="#000" />
<circle cx="1877.7" cy="117.8" r="7" fill="#000" />
<circle cx="1895.7" cy="113" r="7" fill="#000" />
<circle cx="1913.7" cy="117.9" r="7" fill="#000" />
<circle cx="1931.6" cy="117.9" r="7" fill="#000" />
<circle cx="1949.6" cy="117.5" r="7" fill="#000" />
<circle cx="1967.6" cy="127.7" r="7" fill="#000" />
<circle cx="1985.5" cy="136.8" r="7" fill="#000" />
<circle cx="1590.3" cy="286" r="7" fill="#000" />
<circle cx="1635.2" cy="309" r="7" fill="#000" />
<circle cx="1680.1" cy="349.6" r="7" fill="#000" />
<circle cx="1725" cy="372.9" r="7" fill="#000" />
<circle cx="1769.9" cy="378.6" r="7" fill="#000" />
<circle cx="1814.8" cy="390.1" r="7" fill="#000" />
<circle cx="1859.8" cy="413.6" r="7" fill="#000" />
<circle cx="1877.7" cy="418.9" r="7" fill="#000" />
<circle cx="1895.7" cy="418.5" r="7" fill="#000" />
<circle cx="1931.6" cy="428.8" r="7" fill="#000" />
<circle cx="1949.6" cy="430.9" r="7" fill="#000" />
<circle cx="1967.6" cy="434.1" r="7" fill="#000" />
<circle cx="1985.5" cy="436.2" r="7" fill="#000" />
<path d="M1890.5,425.5 Q1945,434 1994,440.3" fill="none" stroke="#ff0000" stroke-opacity="0.5" stroke-width="7" stroke-linecap="round"/>
<line x1="1500.4" y1="44" x2="1500.4" y2="49.2" stroke="#000" stroke-width="4.8" stroke-linecap="round"/>
<line x1="1500.4" y1="459.5" x2="1500.4" y2="454.3" stroke="#000" stroke-width="4.8" stroke-linecap="round"/>
<line x1="1500.4" y1="246.5" x2="1500.4" y2="256.9" stroke="#000" stroke-width="4.8" stroke-linecap="round"/>
<line x1="1545.3" y1="44" x2="1545.3" y2="53.8" stroke="#000" stroke-width="4.8" stroke-linecap="round"/>
<line x1="1545.3" y1="459.5" x2="1545.3" y2="449.7" stroke="#000" stroke-width="4.8" stroke-linecap="round"/>
<line x1="1545.3" y1="241.9" x2="1545.3" y2="261.5" stroke="#000" stroke-width="4.8" stroke-linecap="round"/>
<line x1="1590.3" y1="44" x2="1590.3" y2="49.2" stroke="#000" stroke-width="4.8" stroke-linecap="round"/>
<line x1="1590.3" y1="459.5" x2="1590.3" y2="454.3" stroke="#000" stroke-width="4.8" stroke-linecap="round"/>
<line x1="1590.3" y1="246.5" x2="1590.3" y2="256.9" stroke="#000" stroke-width="4.8" stroke-linecap="round"/>
<line x1="1635.2" y1="44" x2="1635.2" y2="53.8" stroke="#000" stroke-width="4.8" stroke-linecap="round"/>
<line x1="1635.2" y1="459.5" x2="1635.2" y2="449.7" stroke="#000" stroke-width="4.8" stroke-linecap="round"/>
<line x1="1635.2" y1="241.9" x2="1635.2" y2="261.5" stroke="#000" stroke-width="4.8" stroke-linecap="round"/>
<line x1="1680.1" y1="44" x2="1680.1" y2="49.2" stroke="#000" stroke-width="4.8" stroke-linecap="round"/>
<line x1="1680.1" y1="459.5" x2="1680.1" y2="454.3" stroke="#000" stroke-width="4.8" stroke-linecap="round"/>
<line x1="1680.1" y1="246.5" x2="1680.1" y2="256.9" stroke="#000" stroke-width="4.8" stroke-linecap="round"/>
<line x1="1725" y1="44" x2="1725" y2="53.8" stroke="#000" stroke-width="4.8" stroke-linecap="round"/>
<line x1="1725" y1="459.5" x2="1725" y2="449.7" stroke="#000" stroke-width="4.8" stroke-linecap="round"/>
<line x1="1725" y1="241.9" x2="1725" y2="261.5" stroke="#000" stroke-width="4.8" stroke-linecap="round"/>
<line x1="1769.9" y1="44" x2="1769.9" y2="49.2" stroke="#000" stroke-width="4.8" stroke-linecap="round"/>
<line x1="1769.9" y1="459.5" x2="1769.9" y2="454.3" stroke="#000" stroke-width="4.8" stroke-linecap="round"/>
<line x1="1769.9" y1="246.5" x2="1769.9" y2="256.9" stroke="#000" stroke-width="4.8" stroke-linecap="round"/>
<line x1="1814.8" y1="44" x2="1814.8" y2="53.8" stroke="#000" stroke-width="4.8" stroke-linecap="round"/>
<line x1="1814.8" y1="459.5" x2="1814.8" y2="449.7" stroke="#000" stroke-width="4.8" stroke-linecap="round"/>
<line x1="1814.8" y1="241.9" x2="1814.8" y2="261.5" stroke="#000" stroke-width="4.8" stroke-linecap="round"/>
<line x1="1859.8" y1="44" x2="1859.8" y2="49.2" stroke="#000" stroke-width="4.8" stroke-linecap="round"/>
<line x1="1859.8" y1="459.5" x2="1859.8" y2="454.3" stroke="#000" stroke-width="4.8" stroke-linecap="round"/>
<line x1="1859.8" y1="246.5" x2="1859.8" y2="256.9" stroke="#000" stroke-width="4.8" stroke-linecap="round"/>
<line x1="1904.7" y1="44" x2="1904.7" y2="53.8" stroke="#000" stroke-width="4.8" stroke-linecap="round"/>
<line x1="1904.7" y1="459.5" x2="1904.7" y2="449.7" stroke="#000" stroke-width="4.8" stroke-linecap="round"/>
<line x1="1904.7" y1="241.9" x2="1904.7" y2="261.5" stroke="#000" stroke-width="4.8" stroke-linecap="round"/>
<line x1="1949.6" y1="44" x2="1949.6" y2="49.2" stroke="#000" stroke-width="4.8" stroke-linecap="round"/>
<line x1="1949.6" y1="459.5" x2="1949.6" y2="454.3" stroke="#000" stroke-width="4.8" stroke-linecap="round"/>
<line x1="1949.6" y1="246.5" x2="1949.6" y2="256.9" stroke="#000" stroke-width="4.8" stroke-linecap="round"/>
<line x1="1455.5" y1="241.9" x2="1465.5" y2="241.9" stroke="#000" stroke-width="4.8" stroke-linecap="round"/>
<line x1="1994.5" y1="241.9" x2="1984.5" y2="241.9" stroke="#000" stroke-width="4.8" stroke-linecap="round"/>
<line x1="1455.5" y1="217.2" x2="1460.8" y2="217.2" stroke="#000" stroke-width="4.8" stroke-linecap="round"/>
<line x1="1994.5" y1="217.2" x2="1989.2" y2="217.2" stroke="#000" stroke-width="4.8" stroke-linecap="round"/>
<line x1="1455.5" y1="192.4" x2="1465.5" y2="192.4" stroke="#000" stroke-width="4.8" stroke-linecap="round"/>
<line x1="1994.5" y1="192.4" x2="1984.5" y2="192.4" stroke="#000" stroke-width="4.8" stroke-linecap="round"/>
<line x1="1455.5" y1="167.7" x2="1460.8" y2="167.7" stroke="#000" stroke-width="4.8" stroke-linecap="round"/>
<line x1="1994.5" y1="167.7" x2="1989.2" y2="167.7" stroke="#000" stroke-width="4.8" stroke-linecap="round"/>
<line x1="1455.5" y1="142.9" x2="1465.5" y2="142.9" stroke="#000" stroke-width="4.8" stroke-linecap="round"/>
<line x1="1994.5" y1="142.9" x2="1984.5" y2="142.9" stroke="#000" stroke-width="4.8" stroke-linecap="round"/>
<line x1="1455.5" y1="118.2" x2="1460.8" y2="118.2" stroke="#000" stroke-width="4.8" stroke-linecap="round"/>
<line x1="1994.5" y1="118.2" x2="1989.2" y2="118.2" stroke="#000" stroke-width="4.8" stroke-linecap="round"/>
<line x1="1455.5" y1="93.5" x2="1465.5" y2="93.5" stroke="#000" stroke-width="4.8" stroke-linecap="round"/>
<line x1="1994.5" y1="93.5" x2="1984.5" y2="93.5" stroke="#000" stroke-width="4.8" stroke-linecap="round"/>
<line x1="1455.5" y1="68.7" x2="1460.8" y2="68.7" stroke="#000" stroke-width="4.8" stroke-linecap="round"/>
<line x1="1994.5" y1="68.7" x2="1989.2" y2="68.7" stroke="#000" stroke-width="4.8" stroke-linecap="round"/>
<line x1="1455.5" y1="459.4" x2="1465.5" y2="459.4" stroke="#000" stroke-width="4.8" stroke-linecap="round"/>
<line x1="1994.5" y1="459.4" x2="1984.5" y2="459.4" stroke="#000" stroke-width="4.8" stroke-linecap="round"/>
<line x1="1455.5" y1="436.4" x2="1460.8" y2="436.4" stroke="#000" stroke-width="4.8" stroke-linecap="round"/>
<line x1="1994.5" y1="436.4" x2="1989.2" y2="436.4" stroke="#000" stroke-width="4.8" stroke-linecap="round"/>
<line x1="1455.5" y1="413.5" x2="1465.5" y2="413.5" stroke="#000" stroke-width="4.8" stroke-linecap="round"/>
<line x1="1994.5" y1="413.5" x2="1984.5" y2="413.5" stroke="#000" stroke-width="4.8" stroke-linecap="round"/>
<line x1="1455.5" y1="390.5" x2="1460.8" y2="390.5" stroke="#000" stroke-width="4.8" stroke-linecap="round"/>
<line x1="1994.5" y1="390.5" x2="1989.2" y2="390.5" stroke="#000" stroke-width="4.8" stroke-linecap="round"/>
<line x1="1455.5" y1="367.6" x2="1465.5" y2="367.6" stroke="#000" stroke-width="4.8" stroke-linecap="round"/>
<line x1="1994.5" y1="367.6" x2="1984.5" y2="367.6" stroke="#000" stroke-width="4.8" stroke-linecap="round"/>
<line x1="1455.5" y1="344.6" x2="1460.8" y2="344.6" stroke="#000" stroke-width="4.8" stroke-linecap="round"/>
<line x1="1994.5" y1="344.6" x2="1989.2" y2="344.6" stroke="#000" stroke-width="4.8" stroke-linecap="round"/>
<line x1="1455.5" y1="321.7" x2="1465.5" y2="321.7" stroke="#000" stroke-width="4.8" stroke-linecap="round"/>
<line x1="1994.5" y1="321.7" x2="1984.5" y2="321.7" stroke="#000" stroke-width="4.8" stroke-linecap="round"/>
<line x1="1455.5" y1="298.8" x2="1460.8" y2="298.8" stroke="#000" stroke-width="4.8" stroke-linecap="round"/>
<line x1="1994.5" y1="298.8" x2="1989.2" y2="298.8" stroke="#000" stroke-width="4.8" stroke-linecap="round"/>
<line x1="1455.5" y1="275.8" x2="1465.5" y2="275.8" stroke="#000" stroke-width="4.8" stroke-linecap="round"/>
<line x1="1994.5" y1="275.8" x2="1984.5" y2="275.8" stroke="#000" stroke-width="4.8" stroke-linecap="round"/>
<rect x="1455.5" y="44" width="539" height="415.5" fill="none" stroke="#000" stroke-width="4.8" stroke-linejoin="round"/>
<line x1="1455.5" y1="251.7" x2="1994.5" y2="251.7" stroke="#000" stroke-width="4.8" />
<rect x="1902" y="44" width="92.5" height="415.5" fill="rgb(190,190,190)" fill-opacity="0.42"/>
<text x="1437.5" y="251.1" font-size="28.8" fill="#000" text-anchor="end" font-weight="normal" font-style="normal" textLength="39" lengthAdjust="spacingAndGlyphs" >0.0</text>
<text x="1437.5" y="201.6" font-size="28.8" fill="#000" text-anchor="end" font-weight="normal" font-style="normal" textLength="39" lengthAdjust="spacingAndGlyphs" >0.5</text>
<text x="1437.5" y="152.1" font-size="28.8" fill="#000" text-anchor="end" font-weight="normal" font-style="normal" textLength="39" lengthAdjust="spacingAndGlyphs" >1.0</text>
<text x="1437.5" y="102.7" font-size="28.8" fill="#000" text-anchor="end" font-weight="normal" font-style="normal" textLength="39" lengthAdjust="spacingAndGlyphs" >1.5</text>
<text x="1437.5" y="53.2" font-size="28.8" fill="#000" text-anchor="end" font-weight="normal" font-style="normal" textLength="39" lengthAdjust="spacingAndGlyphs" >2.0</text>
<text x="1437.8" y="468.6" font-size="28.8" fill="#000" text-anchor="end" font-weight="normal" font-style="normal" textLength="15" lengthAdjust="spacingAndGlyphs" >0</text>
<text x="1437.8" y="422.7" font-size="28.8" fill="#000" text-anchor="end" font-weight="normal" font-style="normal" textLength="15" lengthAdjust="spacingAndGlyphs" >4</text>
<text x="1437.8" y="376.8" font-size="28.8" fill="#000" text-anchor="end" font-weight="normal" font-style="normal" textLength="15" lengthAdjust="spacingAndGlyphs" >8</text>
<text x="1437.8" y="330.9" font-size="28.8" fill="#000" text-anchor="end" font-weight="normal" font-style="normal" textLength="28" lengthAdjust="spacingAndGlyphs" >12</text>
<text x="1437.8" y="285" font-size="28.8" fill="#000" text-anchor="end" font-weight="normal" font-style="normal" textLength="28" lengthAdjust="spacingAndGlyphs" >16</text>
<text x="1455.5" y="495.3" font-size="28.5" fill="#000" text-anchor="middle" font-weight="normal" font-style="normal" textLength="15" lengthAdjust="spacingAndGlyphs" >0</text>
<text x="1545.3" y="495.3" font-size="28.5" fill="#000" text-anchor="middle" font-weight="normal" font-style="normal" textLength="31" lengthAdjust="spacingAndGlyphs" >50</text>
<text x="1635.2" y="495.3" font-size="28.5" fill="#000" text-anchor="middle" font-weight="normal" font-style="normal" textLength="46.5" lengthAdjust="spacingAndGlyphs" >100</text>
<text x="1725" y="495.3" font-size="28.5" fill="#000" text-anchor="middle" font-weight="normal" font-style="normal" textLength="46.5" lengthAdjust="spacingAndGlyphs" >150</text>
<text x="1814.8" y="495.3" font-size="28.5" fill="#000" text-anchor="middle" font-weight="normal" font-style="normal" textLength="46.5" lengthAdjust="spacingAndGlyphs" >200</text>
<text x="1904.7" y="495.3" font-size="28.5" fill="#000" text-anchor="middle" font-weight="normal" font-style="normal" textLength="46.5" lengthAdjust="spacingAndGlyphs" >250</text>
<text x="1994.5" y="495.3" font-size="28.5" fill="#000" text-anchor="middle" font-weight="normal" font-style="normal" textLength="46.5" lengthAdjust="spacingAndGlyphs" >300</text>
<text x="1724.8" y="540.1" font-size="28.5" fill="#000" text-anchor="middle" font-weight="normal" font-style="normal" textLength="212.4" lengthAdjust="spacingAndGlyphs" >Temperature (K)</text>
<text transform="translate(1368,146.5) rotate(-90)" font-size="29" fill="#000" text-anchor="middle"><tspan font-style="italic">V</tspan><tspan font-size="20" dy="8">el,sf</tspan><tspan dy="-8"> (μV)</tspan></text>
<text transform="translate(1368,350.4) rotate(-90)" font-size="29" fill="#000" text-anchor="middle" textLength="244.8" lengthAdjust="spacingAndGlyphs">Decay length (μm)</text>
<text x="1884" y="25" font-size="35" fill="#000"><tspan font-style="italic">T</tspan><tspan x="1906.3" font-size="26" dy="8">M</tspan></text>
<line x1="1474.8" y1="401.1" x2="1502.5" y2="401.1" stroke="#808080" stroke-width="6.2" stroke-linecap="round"/>
<line x1="1474.8" y1="433.2" x2="1502.5" y2="433.2" stroke="#ff8080" stroke-width="6.2" stroke-linecap="round"/>
<text x="1518.3" y="409.8" font-size="25" fill="#000" text-anchor="start" font-weight="normal" font-style="normal" textLength="150.6" lengthAdjust="spacingAndGlyphs" >Elliptical SWs</text>
<text x="1518.3" y="441.1" font-size="25" fill="#000" text-anchor="start" font-weight="normal" font-style="normal" textLength="212.4" lengthAdjust="spacingAndGlyphs" >Pairs of linear SWs</text>
</svg></body></html>
